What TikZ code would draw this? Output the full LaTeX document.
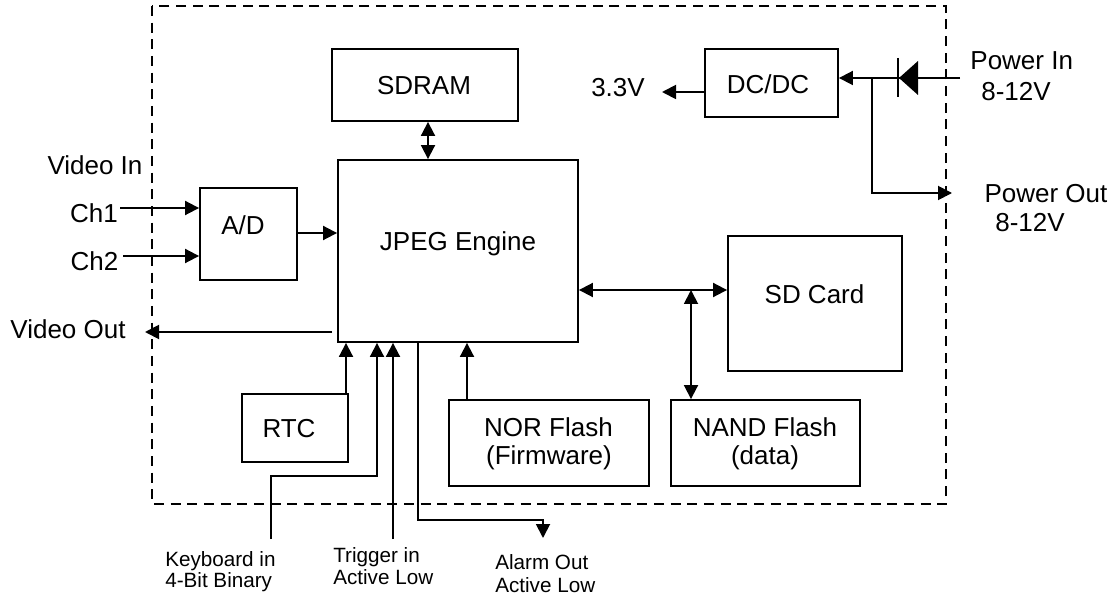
\documentclass[tikz,border=0pt]{standalone}
\usepackage{fontspec}
\setmainfont{Liberation Sans}
\usetikzlibrary{arrows.meta,fit}
\begin{document}
\begin{tikzpicture}[x=0.75pt,y=-0.75pt,
  box/.style={draw,line width=1.4pt,inner sep=0pt},
  lbl/.style={font=\fontsize{19.5}{23}\selectfont,inner sep=0pt,text height=14pt,text depth=0pt},
  sml/.style={font=\fontsize{15.5}{18}\selectfont,inner sep=0pt,anchor=west,text height=11.1pt,text depth=0pt},
  wire/.style={line width=1.4pt},
  arr/.style={wire,-{Triangle[length=10.5pt,width=10.5pt]}},
  dbl/.style={wire,{Triangle[length=10.5pt,width=10.5pt]}-{Triangle[length=10.5pt,width=10.5pt]}},
  border/.style={line width=1.4pt,dash pattern=on 7.5pt off 5pt}]
\useasboundingbox (0,0) rectangle (1117,598);

% enclosure
\draw[border] (152,6) rectangle (946,504);

% boxes
\node[box,fit={(332,49)(518,121)}] (sdram) {};
\node[box,fit={(338,160)(578,342)}] (jpeg) {};
\node[box,fit={(200,188)(297,280)}] (ad) {};
\node[box,fit={(242,394)(348,462)}] (rtc) {};
\node[box,fit={(449,400)(649,486)}] (nor) {};
\node[box,fit={(671,400)(860,486)}] (nand) {};
\node[box,fit={(728,236)(902,371)}] (sd) {};
\node[box,fit={(705,49)(838,117)}] (dcdc) {};

% box texts
\node[lbl] (sdramT) at (424,85) {SDRAM};
\node[lbl] (jpegT) at (458,241) {JPEG Engine};
\node[lbl] (adT) at (243,225) {A/D};
\node[lbl] (rtcT) at (289,428) {RTC};
\node[lbl] (norT1) at (548.5,427) {NOR Flash};
\node[lbl] (norT2) at (549,455) {(Firmware)};
\node[lbl] (nandT1) at (765,427) {NAND Flash};
\node[lbl] (nandT2) at (765,455) {(data)};
\node[lbl] (sdT) at (814.5,294) {SD Card};
\node[lbl] (dcdcT) at (768,84) {DC/DC};

% outside labels
\node[lbl] (vin) at (95,165) {Video In};
\node[lbl] (ch1) at (94,213) {Ch1};
\node[lbl] (ch2) at (94.5,261) {Ch2};
\node[lbl] (vout) at (68,329) {Video Out};
\node[lbl] (v33) at (618,87.5) {3.3V};
\node[lbl] (pin1) at (1021.7,60) {Power In};
\node[lbl] (pin2) at (1016,91) {8-12V};
\node[lbl] (pout1) at (1046,193) {Power Out};
\node[lbl] (pout2) at (1030,222) {8-12V};
\node[sml] (kb1) at (165,559) {Keyboard in};
\node[sml] (kb2) at (165,580) {4-Bit Binary};
\node[sml] (tr1) at (333,555) {Trigger in};
\node[sml] (tr2) at (333,577) {Active Low};
\node[sml] (al1) at (495,562) {Alarm Out};
\node[sml] (al2) at (495,585) {Active Low};

% helper coordinates
\coordinate (ch1s) at (120,208);
\coordinate (ch2s) at (123,256);
\coordinate (adj) at (0,233);
\coordinate (vo) at (145,332);
\coordinate (xsd) at (428,0);
\coordinate (xrtc) at (346,0);
\coordinate (kbs) at (271,539);
\coordinate (kbturn) at (377,476);
\coordinate (trs) at (393,539);
\coordinate (xal) at (418,0);
\coordinate (alturn) at (543,520);
\coordinate (alm) at (543,538);
\coordinate (xnor) at (467,0);
\coordinate (ysd) at (0,290);
\coordinate (j1) at (691,290);
\coordinate (v33e) at (662,92);
\coordinate (pins) at (960,78);
\coordinate (pj) at (872,78);
\coordinate (pout) at (952,193);

% connectors
\draw[arr] (ch1s) -- (ad.west |- ch1s);
\draw[arr] (ch2s) -- (ad.west |- ch2s);
\draw[arr] (ad.east |- adj) -- (jpeg.west |- adj);
\draw[arr,shorten <=3.75pt] (jpeg.west |- vo) -- (vo);
\draw[dbl] (sdram.south -| xsd) -- (jpeg.north -| xsd);
\draw[arr] (rtc.north -| xrtc) -- (jpeg.south -| xrtc);
\draw[arr] (kbs) |- (kbturn) -- (jpeg.south -| kbturn);
\draw[arr] (trs) -- (jpeg.south -| trs);
\draw[arr] (jpeg.south -| xal) |- (alturn) -- (alm);
\draw[arr] (nor.north -| xnor) -- (jpeg.south -| xnor);
\draw[dbl] (jpeg.east |- ysd) -- (sd.west |- ysd);
\draw[dbl] (j1) -- (nand.north -| j1);
\draw[arr] (dcdc.west |- v33e) -- (v33e);
\draw[arr] (pins) -- (dcdc.east |- pins);
\draw[arr] (pj) |- (pout);

% diode
\fill (918,61) -- (918,95) -- (899,78) -- cycle;
\draw[wire] (898,58) -- (898,97);
\end{tikzpicture}
\end{document}
